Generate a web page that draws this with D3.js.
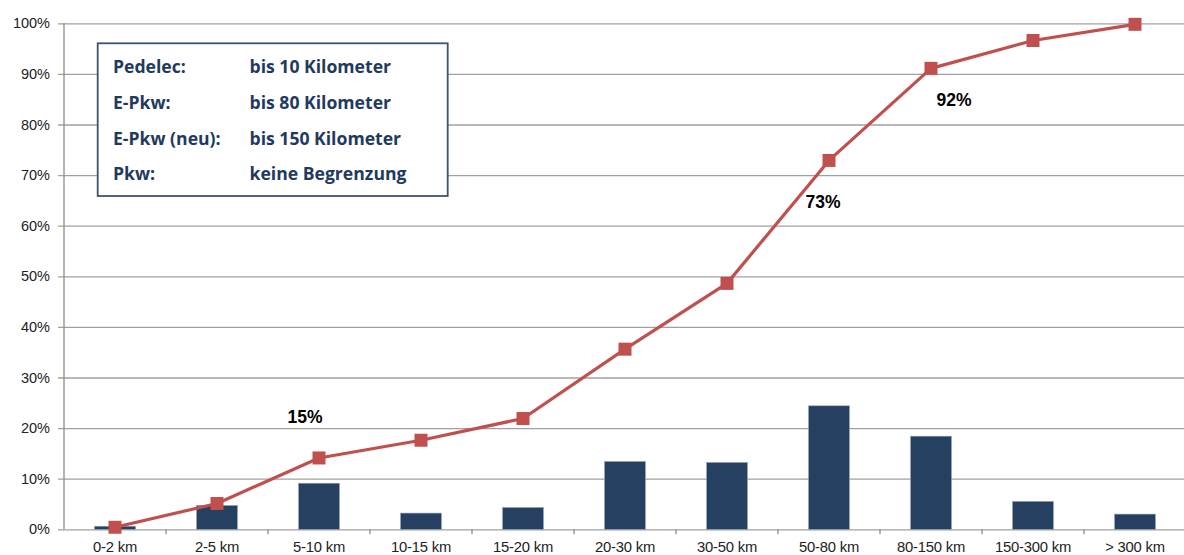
<!DOCTYPE html>
<html>
<head>
<meta charset="utf-8">
<script src="https://cdn.jsdelivr.net/npm/d3@7"></script>
<style>
  html, body { margin: 0; padding: 0; background: #fff; }
  svg { display: block; }
</style>
</head>
<body>
<svg id="chart" width="1184" height="555"></svg>
<script>
// ---- data ----
const categories = ["0-2 km", "2-5 km", "5-10 km", "10-15 km", "15-20 km", "20-30 km",
                    "30-50 km", "50-80 km", "80-150 km", "150-300 km", "> 300 km"];
const shareValues = [0.006, 0.047, 0.091, 0.032, 0.043, 0.134, 0.132, 0.244, 0.184, 0.055, 0.030];
const cumulativeValues = [0.004, 0.051, 0.141, 0.176, 0.219, 0.356, 0.486, 0.729, 0.911, 0.966, 0.998];
const yTicks = [0, 0.1, 0.2, 0.3, 0.4, 0.5, 0.6, 0.7, 0.8, 0.9, 1.0];
const annotationLabels = ["15%", "73%", "92%"];
const annotationCategories = ["5-10 km", "50-80 km", "80-150 km"];
const legendLeft = ["Pedelec:", "E-Pkw:", "E-Pkw (neu):", "Pkw:"];
const legendRight = ["bis 10 Kilometer", "bis 80 Kilometer", "bis 150 Kilometer", "keine Begrenzung"];

// ---- layout ----
const svg = d3.select("#chart");
const margin = { left: 64, top: 23.3 };
const plotW = 1122, plotH = 506;
const g = svg.append("g").attr("transform", `translate(${margin.left},${margin.top})`);

const x = d3.scaleBand().domain(categories).range([0, plotW]).paddingInner(0).paddingOuter(0);
const y = d3.scaleLinear().domain([0, 1]).range([plotH, 0]);

const gridColor = "#a0a0a0";
const axisFont = "'Liberation Sans', Arial, sans-serif";

// gridlines + y labels
const yAxis = d3.axisLeft(y).tickValues(yTicks).tickFormat(d3.format(".0%"))
  .tickSize(-plotW - 6).tickPadding(8);
const yg = g.append("g").attr("transform", "translate(-6,0)").call(yAxis);
yg.select(".domain").remove();
yg.selectAll(".tick line").attr("stroke", gridColor).attr("stroke-width", 1.3).attr("x1", 0).attr("x2", plotW + 6);
yg.selectAll(".tick text")
  .attr("font-family", axisFont).attr("font-size", 14.5).attr("fill", "#222")
  .attr("x", -8);

// y axis line
g.append("line").attr("x1", 0).attr("x2", 0).attr("y1", 0).attr("y2", plotH)
  .attr("stroke", "#8c8c8c").attr("stroke-width", 1.3);

// x axis
const xAxis = d3.axisBottom(x).tickSize(0).tickPadding(12);
const xg = g.append("g").attr("transform", `translate(0,${plotH})`).call(xAxis);
xg.select(".domain").remove();
xg.selectAll(".tick text")
  .attr("font-family", axisFont).attr("font-size", 14.8).attr("fill", "#222")
  .attr("letter-spacing", "-0.2");
// boundary tick marks
g.append("g").selectAll("line")
  .data(categories)
  .join("line")
  .attr("x1", d => x(d) + x.bandwidth())
  .attr("x2", d => x(d) + x.bandwidth())
  .attr("y1", plotH).attr("y2", plotH + 5)
  .attr("stroke", "#8c8c8c").attr("stroke-width", 1.3);

// bars
const barW = x.bandwidth() * 0.4;
g.append("g").selectAll("rect")
  .data(shareValues)
  .join("rect")
  .attr("x", (d, i) => x(categories[i]) + (x.bandwidth() - barW) / 2)
  .attr("y", d => y(d))
  .attr("width", barW)
  .attr("height", d => plotH - y(d))
  .attr("fill", "#264061")
  .attr("stroke", "#8d9bb0").attr("stroke-width", 0.6);

// line
const line = d3.line()
  .x((d, i) => x(categories[i]) + x.bandwidth() / 2)
  .y(d => y(d));
g.append("path").datum(cumulativeValues)
  .attr("d", line)
  .attr("fill", "none")
  .attr("stroke", "#c0504d")
  .attr("stroke-width", 3.2)
  .attr("stroke-linejoin", "round");

const ms = 13;
g.append("g").selectAll("rect")
  .data(cumulativeValues)
  .join("rect")
  .attr("x", (d, i) => x(categories[i]) + x.bandwidth() / 2 - ms / 2)
  .attr("y", d => y(d) - ms / 2)
  .attr("width", ms).attr("height", ms)
  .attr("fill", "#c0504d");

// annotations (offsets relative to the marker they label)
const annOffsets = [[-14, -41], [-6, 42], [23, 32]];
g.append("g").selectAll("text")
  .data(annotationLabels)
  .join("text")
  .attr("x", (d, i) => x(annotationCategories[i]) + x.bandwidth() / 2 + annOffsets[i][0])
  .attr("y", (d, i) => y(cumulativeValues[categories.indexOf(annotationCategories[i])]) + annOffsets[i][1])
  .attr("text-anchor", "middle")
  .attr("dominant-baseline", "central")
  .attr("font-family", axisFont)
  .attr("font-weight", "bold")
  .attr("font-size", 17.5)
  .attr("fill", "#000")
  .text(d => d);

// legend box
const lg = svg.append("g");
lg.append("rect")
  .attr("x", 97.7).attr("y", 43.3).attr("width", 350).attr("height", 152.7)
  .attr("fill", "#fff").attr("stroke", "#3b5373").attr("stroke-width", 1.8);
const legendFont = "'Open Sans', Lato, sans-serif";
lg.selectAll("text.l").data(legendLeft).join("text").attr("class", "l")
  .attr("x", 113).attr("y", (d, i) => 73 + i * 35.8)
  .attr("font-family", legendFont).attr("font-weight", "bold").attr("font-size", 17.6)
  .attr("fill", "#1f3a60").text(d => d);
lg.selectAll("text.r").data(legendRight).join("text").attr("class", "r")
  .attr("x", 249.5).attr("y", (d, i) => 73 + i * 35.8)
  .attr("font-family", legendFont).attr("font-weight", "bold").attr("font-size", 17.6)
  .attr("fill", "#1f3a60").text(d => d);
</script>
</body>
</html>
